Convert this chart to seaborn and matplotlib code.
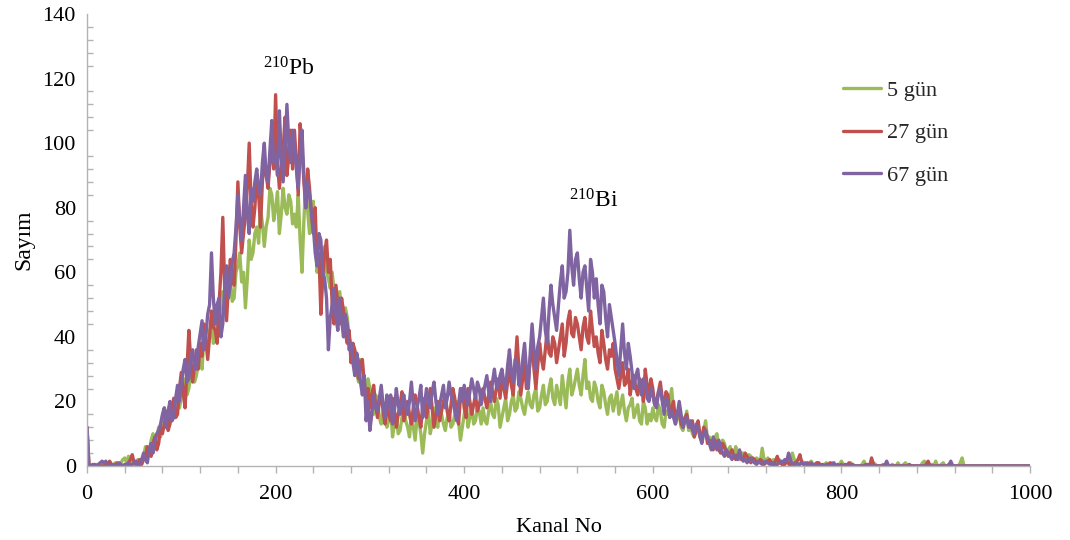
import matplotlib
matplotlib.use("Agg")
import matplotlib.pyplot as plt
import seaborn as sns
import pandas as pd
from matplotlib.ticker import MultipleLocator

# ---------------- data (every 2nd channel) ----------------
channels = list(range(0, 1001, 2))

gun5 = [
    12, 0.5, 0, 0, 0, 0.5, 0, 0, 0.5, 0,
    0, 0, 0.5, 0, 0, 1, 0, 0.5, 1, 2,
    2.5, 1, 3, 1.5, 0.5, 0, 1, 2, 1.5, 2,
    3, 6, 5, 4, 8, 10, 6, 9, 12, 9,
    15, 18, 12, 16, 19, 14, 16, 20, 22, 18,
    21, 25, 27, 22, 24, 29, 31, 26, 28, 32,
    34, 30, 40, 37, 36, 42, 44, 38, 41, 47,
    46, 50, 54, 47, 50, 56, 58, 51, 52, 60,
    62, 66, 57, 60, 49, 58, 70, 64, 66, 72,
    74, 69, 80, 75, 68, 74, 77, 86, 84, 76,
    80, 85, 72, 78, 86, 80, 78, 84, 82, 75,
    78, 74, 84, 70, 60, 76, 88, 79, 72, 78,
    82, 70, 60, 65, 54, 62, 68, 60, 58, 55,
    60, 54, 50, 46, 54, 48, 42, 49, 46, 40,
    38, 32, 34, 29, 26, 33, 30, 25, 22, 27,
    24, 19, 16, 22, 21, 15, 13, 17, 19, 12,
    14, 18, 9, 13, 16, 10, 11, 15, 18, 14,
    12, 9, 16, 12, 8, 15, 14, 10, 4, 10,
    14, 17, 10, 13, 18, 14, 12, 19, 16, 13,
    11, 15, 17, 12, 13, 16, 20, 14, 8, 12,
    16, 20, 12, 15, 19, 13, 14, 18, 17, 13,
    18, 14, 13, 17, 20, 16, 15, 21, 19, 12,
    15, 18, 21, 14, 16, 20, 22, 17, 18, 23,
    21, 18, 16, 20, 23, 19, 18, 22, 24, 17,
    18, 22, 25, 19, 20, 24, 27, 21, 19, 25,
    22, 19, 28, 23, 18, 26, 30, 22, 24, 27,
    30, 25, 22, 28, 33, 24, 26, 21, 20, 26,
    24, 20, 18, 25, 23, 19, 16, 21, 22, 17,
    20, 23, 16, 19, 22, 17, 14, 18, 19, 21,
    15, 17, 19, 14, 13, 20, 18, 13, 16, 14,
    18, 15, 14, 19, 17, 13, 12, 17, 16, 20,
    24, 17, 13, 15, 16, 12, 11, 14, 17, 11,
    13, 10, 9, 12, 12, 9, 8, 11, 14, 8,
    9, 7, 6, 9, 10, 6, 5, 8, 7, 4,
    5, 6, 3, 4, 6, 3, 2, 4, 4, 2,
    2, 3.5, 3, 1.5, 1, 2.5, 2, 1, 5.5, 2,
    1.5, 2.5, 1, 1.5, 2, 1, 0.5, 2, 1, 1.5,
    1, 2, 0.5, 1.5, 4, 2, 1.5, 0.5, 0.5, 1.5,
    1, 0, 0.5, 1, 1.5, 0.5, 0, 1, 0.5, 0,
    0, 0.5, 1, 0, 0, 1, 0.5, 0, 0, 0.5,
    1.5, 0.5, 0, 0, 0.5, 1, 0, 0, 0, 0,
    0, 0.5, 1.5, 0, 0, 0, 0, 1, 0.5, 0,
    0, 0, 0.5, 0, 0, 0, 0, 0.5, 0, 0,
    1, 0, 0, 0.5, 1, 0, 0, 0, 0, 0,
    0, 0, 0, 1, 1.5, 0, 0, 0, 0.5, 0,
    1.5, 0, 0, 0.5, 1, 0, 0, 0, 0, 0,
    0, 0, 0, 1, 2.5, 0, 0, 0, 0, 0,
    0, 0, 0, 0, 0, 0, 0, 0, 0, 0,
    0, 0, 0, 0, 0, 0, 0, 0, 0, 0,
    0, 0, 0, 0, 0, 0, 0, 0, 0, 0,
    0,
]

gun27 = [
    12, 0.5, 0, 0, 0.5, 0, 0, 0, 0, 0,
    0.5, 0, 1.5, 0.5, 0, 0, 1, 0, 0, 0,
    0.5, 0, 1, 2, 3.5, 1, 0.5, 1, 2, 0.5,
    2, 3, 6, 4, 3, 7, 9, 5, 7, 12,
    10, 13, 17, 11, 13, 18, 21, 15, 16, 24,
    29, 23, 18, 30, 42, 33, 26, 31, 36, 30,
    38, 34, 44, 39, 33, 40, 48, 43, 42, 38,
    50, 60, 77, 55, 45, 56, 64, 58, 56, 70,
    88, 74, 66, 72, 78, 86, 100, 82, 74, 80,
    90, 84, 74, 88, 96, 90, 86, 94, 100, 92,
    115, 94, 86, 92, 98, 108, 90, 96, 104, 92,
    104, 94, 84, 106, 98, 88, 80, 92, 86, 78,
    72, 80, 62, 66, 47, 58, 66, 70, 60, 64,
    50, 44, 56, 50, 44, 52, 48, 41, 38, 42,
    32, 38, 36, 30, 27, 31, 33, 26, 20, 24,
    18, 22, 25, 19, 15, 20, 22, 17, 13, 19,
    16, 14, 21, 17, 12, 16, 19, 23, 14, 17,
    20, 16, 13, 18, 22, 19, 15, 12, 18, 21,
    15, 19, 24, 18, 12, 16, 20, 14, 17, 20,
    22, 17, 14, 19, 24, 21, 16, 13, 21, 24,
    18, 15, 24, 20, 16, 19, 22, 17, 19, 22,
    24, 21, 18, 22, 26, 23, 20, 24, 27, 21,
    28, 24, 21, 26, 30, 25, 22, 31, 40, 30,
    22, 27, 32, 24, 26, 33, 38, 30, 24, 31,
    38, 33, 30, 36, 42, 35, 34, 40, 38, 32,
    36, 40, 44, 34, 38, 45, 48, 41, 40, 46,
    44, 40, 36, 43, 46, 40, 38, 48, 42, 37,
    40, 35, 32, 42, 38, 33, 30, 36, 34, 38,
    30, 27, 24, 28, 32, 25, 26, 30, 22, 26,
    28, 24, 22, 27, 26, 20, 30, 25, 22, 27,
    24, 19, 20, 23, 26, 21, 18, 23, 22, 16,
    18, 20, 14, 17, 17, 13, 12, 15, 16, 13,
    12, 14, 9, 11, 14, 10, 8, 12, 11, 7,
    8, 6, 5, 8, 7, 5, 4, 7, 6, 4,
    3, 4, 5, 3, 2, 3.5, 4, 2, 2, 4,
    3, 2, 1, 2.5, 2, 1, 1, 2, 1.5, 0.5,
    1, 1.5, 2, 0.5, 0.5, 1.5, 3, 1, 1, 0,
    0.5, 1.5, 1, 0, 0.5, 1, 1, 2, 3.5, 1,
    0.5, 0, 1, 0.5, 0, 0, 0.5, 1, 1, 0,
    0.5, 0, 0, 0.5, 1, 0, 0, 0, 0.5, 0,
    0, 0, 0.5, 0, 1, 0.5, 0, 0, 0, 0,
    0, 0, 0, 0.5, 0, 0, 2.5, 0.5, 0, 0,
    0, 0, 0, 0.5, 0, 0, 0, 0, 0, 0,
    0, 0, 0, 0, 0, 0, 0.5, 0, 0, 0,
    0, 0, 0, 0, 0, 0.5, 1.5, 0, 0, 0,
    0, 0, 0, 0, 0, 0, 0, 0.5, 1, 0,
    0, 0, 0, 0, 0, 0, 0, 0, 0, 0,
    0, 0, 0, 0, 0, 0, 0, 0, 0, 0,
    0, 0, 0, 0, 0, 0, 0, 0, 0, 0,
    0, 0, 0, 0, 0, 0, 0, 0, 0, 0,
    0,
]

gun67 = [
    12, 0, 0, 0.5, 0, 0, 0.5, 1, 1.5, 1,
    1.5, 0.5, 0, 0, 0.5, 0, 0, 1, 0.5, 0,
    0, 0.5, 1, 0, 0.5, 1, 1.5, 0, 0.5, 2,
    4, 2, 1, 5, 7, 4, 8, 10, 11, 13,
    16, 18, 12, 17, 20, 14, 15, 21, 25, 20,
    25, 30, 33, 26, 27, 34, 36, 30, 30, 37,
    41, 45, 36, 40, 47, 50, 66, 52, 44, 50,
    52, 40, 44, 55, 62, 52, 56, 63, 66, 74,
    84, 76, 70, 80, 90, 78, 72, 86, 82, 88,
    92, 86, 84, 94, 100, 90, 88, 98, 107, 94,
    96, 90, 110, 96, 88, 98, 112, 100, 94, 104,
    100, 92, 86, 96, 104, 90, 80, 88, 84, 78,
    74, 66, 62, 72, 70, 60, 58, 52, 36, 46,
    50, 55, 46, 42, 52, 45, 40, 47, 44, 36,
    38, 32, 28, 35, 32, 26, 22, 28, 14, 20,
    11, 16, 22, 18, 17, 21, 25, 19, 15, 22,
    18, 22, 13, 17, 24, 19, 16, 20, 22, 18,
    16, 20, 26, 19, 14, 18, 21, 25, 15, 19,
    24, 20, 18, 23, 26, 20, 16, 19, 22, 25,
    18, 21, 26, 22, 20, 17, 14, 19, 24, 20,
    25, 21, 19, 23, 27, 24, 21, 26, 24, 19,
    22, 25, 28, 23, 20, 26, 30, 25, 24, 28,
    30, 26, 24, 31, 36, 29, 26, 33, 32, 25,
    28, 33, 38, 30, 24, 35, 44, 36, 30, 37,
    40, 46, 52, 42, 38, 48, 56, 50, 46, 42,
    50, 57, 62, 52, 54, 60, 73, 62, 56, 64,
    66, 58, 52, 60, 62, 55, 48, 64, 60, 52,
    58, 50, 44, 56, 54, 46, 40, 50, 46, 42,
    38, 33, 28, 36, 44, 35, 30, 38, 34, 29,
    24, 28, 30, 25, 22, 27, 26, 21, 20, 24,
    22, 19, 18, 23, 24, 20, 16, 21, 20, 15,
    17, 15, 13, 16, 20, 16, 12, 14, 15, 12,
    14, 11, 10, 13, 12, 9, 7, 10, 11, 9,
    7, 5, 9, 7, 5, 8, 6, 4, 3, 5,
    4, 3, 2, 3.5, 3, 2, 5, 2.5, 1.5, 2,
    1, 2, 2.5, 1.5, 1, 0.5, 1.5, 1, 0.5, 1,
    1.5, 1, 0.5, 1, 1, 0, 0.5, 1, 1.5, 1,
    2, 1.5, 4, 2, 0.5, 0, 1, 0.5, 0.5, 1,
    0.5, 1, 0, 0.5, 1, 0, 0.5, 0, 0, 0.5,
    0, 0, 0.5, 0, 0, 0.5, 1, 0, 0, 0,
    0.5, 0, 0, 0, 0, 0, 0.5, 0, 0, 0,
    0, 0, 0, 0, 0.5, 0, 0, 0, 0, 0,
    0, 0, 0, 0, 1.5, 0, 0, 0, 0, 0,
    0, 0, 0, 0, 0, 0, 0, 0, 0, 0,
    0, 0, 0, 0, 0, 0, 0, 0, 0, 0,
    0, 0, 0, 0, 0, 0, 0, 0, 1.5, 0,
    0, 0, 0, 0, 0, 0, 0, 0, 0, 0,
    0, 0, 0, 0, 0, 0, 0, 0, 0, 0,
    0, 0, 0, 0, 0, 0, 0, 0, 0, 0,
    0, 0, 0, 0, 0, 0, 0, 0, 0, 0,
    0,
]

series_labels = ["5 gün", "27 gün", "67 gün"]
series_colors = ["#9BBB59", "#C0504D", "#8064A2"]
x_ticks = [0, 200, 400, 600, 800, 1000]
y_ticks = [0, 20, 40, 60, 80, 100, 120, 140]

# ---------------- styling ----------------
sns.set_theme(style="white")
plt.rcParams["font.family"] = ["Liberation Serif", "DejaVu Serif"]
plt.rcParams["mathtext.fontset"] = "custom"
plt.rcParams["mathtext.rm"] = "Liberation Serif"
plt.rcParams["mathtext.it"] = "Liberation Serif:italic"

df = pd.concat([
    pd.DataFrame({"Kanal": channels, "Sayım": vals, "Seri": lab})
    for vals, lab in zip([gun5, gun27, gun67], series_labels)
], ignore_index=True)

fig = plt.figure(figsize=(10.7, 5.4), dpi=100)
ax = fig.add_axes([87 / 1070, 1 - 466 / 540, 943 / 1070, 452 / 540])

sns.lineplot(data=df, x="Kanal", y="Sayım", hue="Seri", hue_order=series_labels,
             palette=series_colors, linewidth=2.4, errorbar=None, ax=ax)

ax.set_xlim(0, 1000)
ax.set_ylim(0, 140)
ax.set_xticks(x_ticks)
ax.set_yticks(y_ticks)
ax.xaxis.set_minor_locator(MultipleLocator(40))
ax.yaxis.set_minor_locator(MultipleLocator(4))

spine_col = "#B3B3B3"
for s in ["top", "right"]:
    ax.spines[s].set_visible(False)
for s in ["left", "bottom"]:
    ax.spines[s].set_color(spine_col)
    ax.spines[s].set_linewidth(1.0)

ax.tick_params(axis="y", which="major", direction="inout", length=10, width=1,
               color=spine_col, labelsize=16, labelcolor="black", pad=3)
ax.tick_params(axis="y", which="minor", direction="in", length=4, width=1,
               color=spine_col, left=True)
ax.tick_params(axis="x", which="major", direction="out", length=5, width=1,
               color=spine_col, labelsize=16, labelcolor="black", pad=9, bottom=True)
ax.tick_params(axis="x", which="minor", direction="out", length=5, width=1,
               color=spine_col, bottom=True)

ax.set_xlabel("Kanal No", fontsize=16, color="black", labelpad=10)
ax.set_ylabel("Sayım", fontsize=17, color="black", labelpad=6)

ax.text(214, 123, r"$^{210}$Pb", fontsize=17, ha="center", va="center", color="black")
ax.text(537, 82, r"$^{210}$Bi", fontsize=17, ha="center", va="center", color="black")

handles, labels = ax.get_legend_handles_labels()
for h in handles:
    h.set_linewidth(2.4)
ax.legend(handles, labels, loc="upper left",
          bbox_to_anchor=(843 / 1070, 1 - 80 / 540), bbox_transform=fig.transFigure,
          frameon=False, fontsize=16, handlelength=1.7, handletextpad=0.3,
          labelspacing=1.0, borderpad=0, borderaxespad=0)

fig.savefig("out.png", dpi=100)
